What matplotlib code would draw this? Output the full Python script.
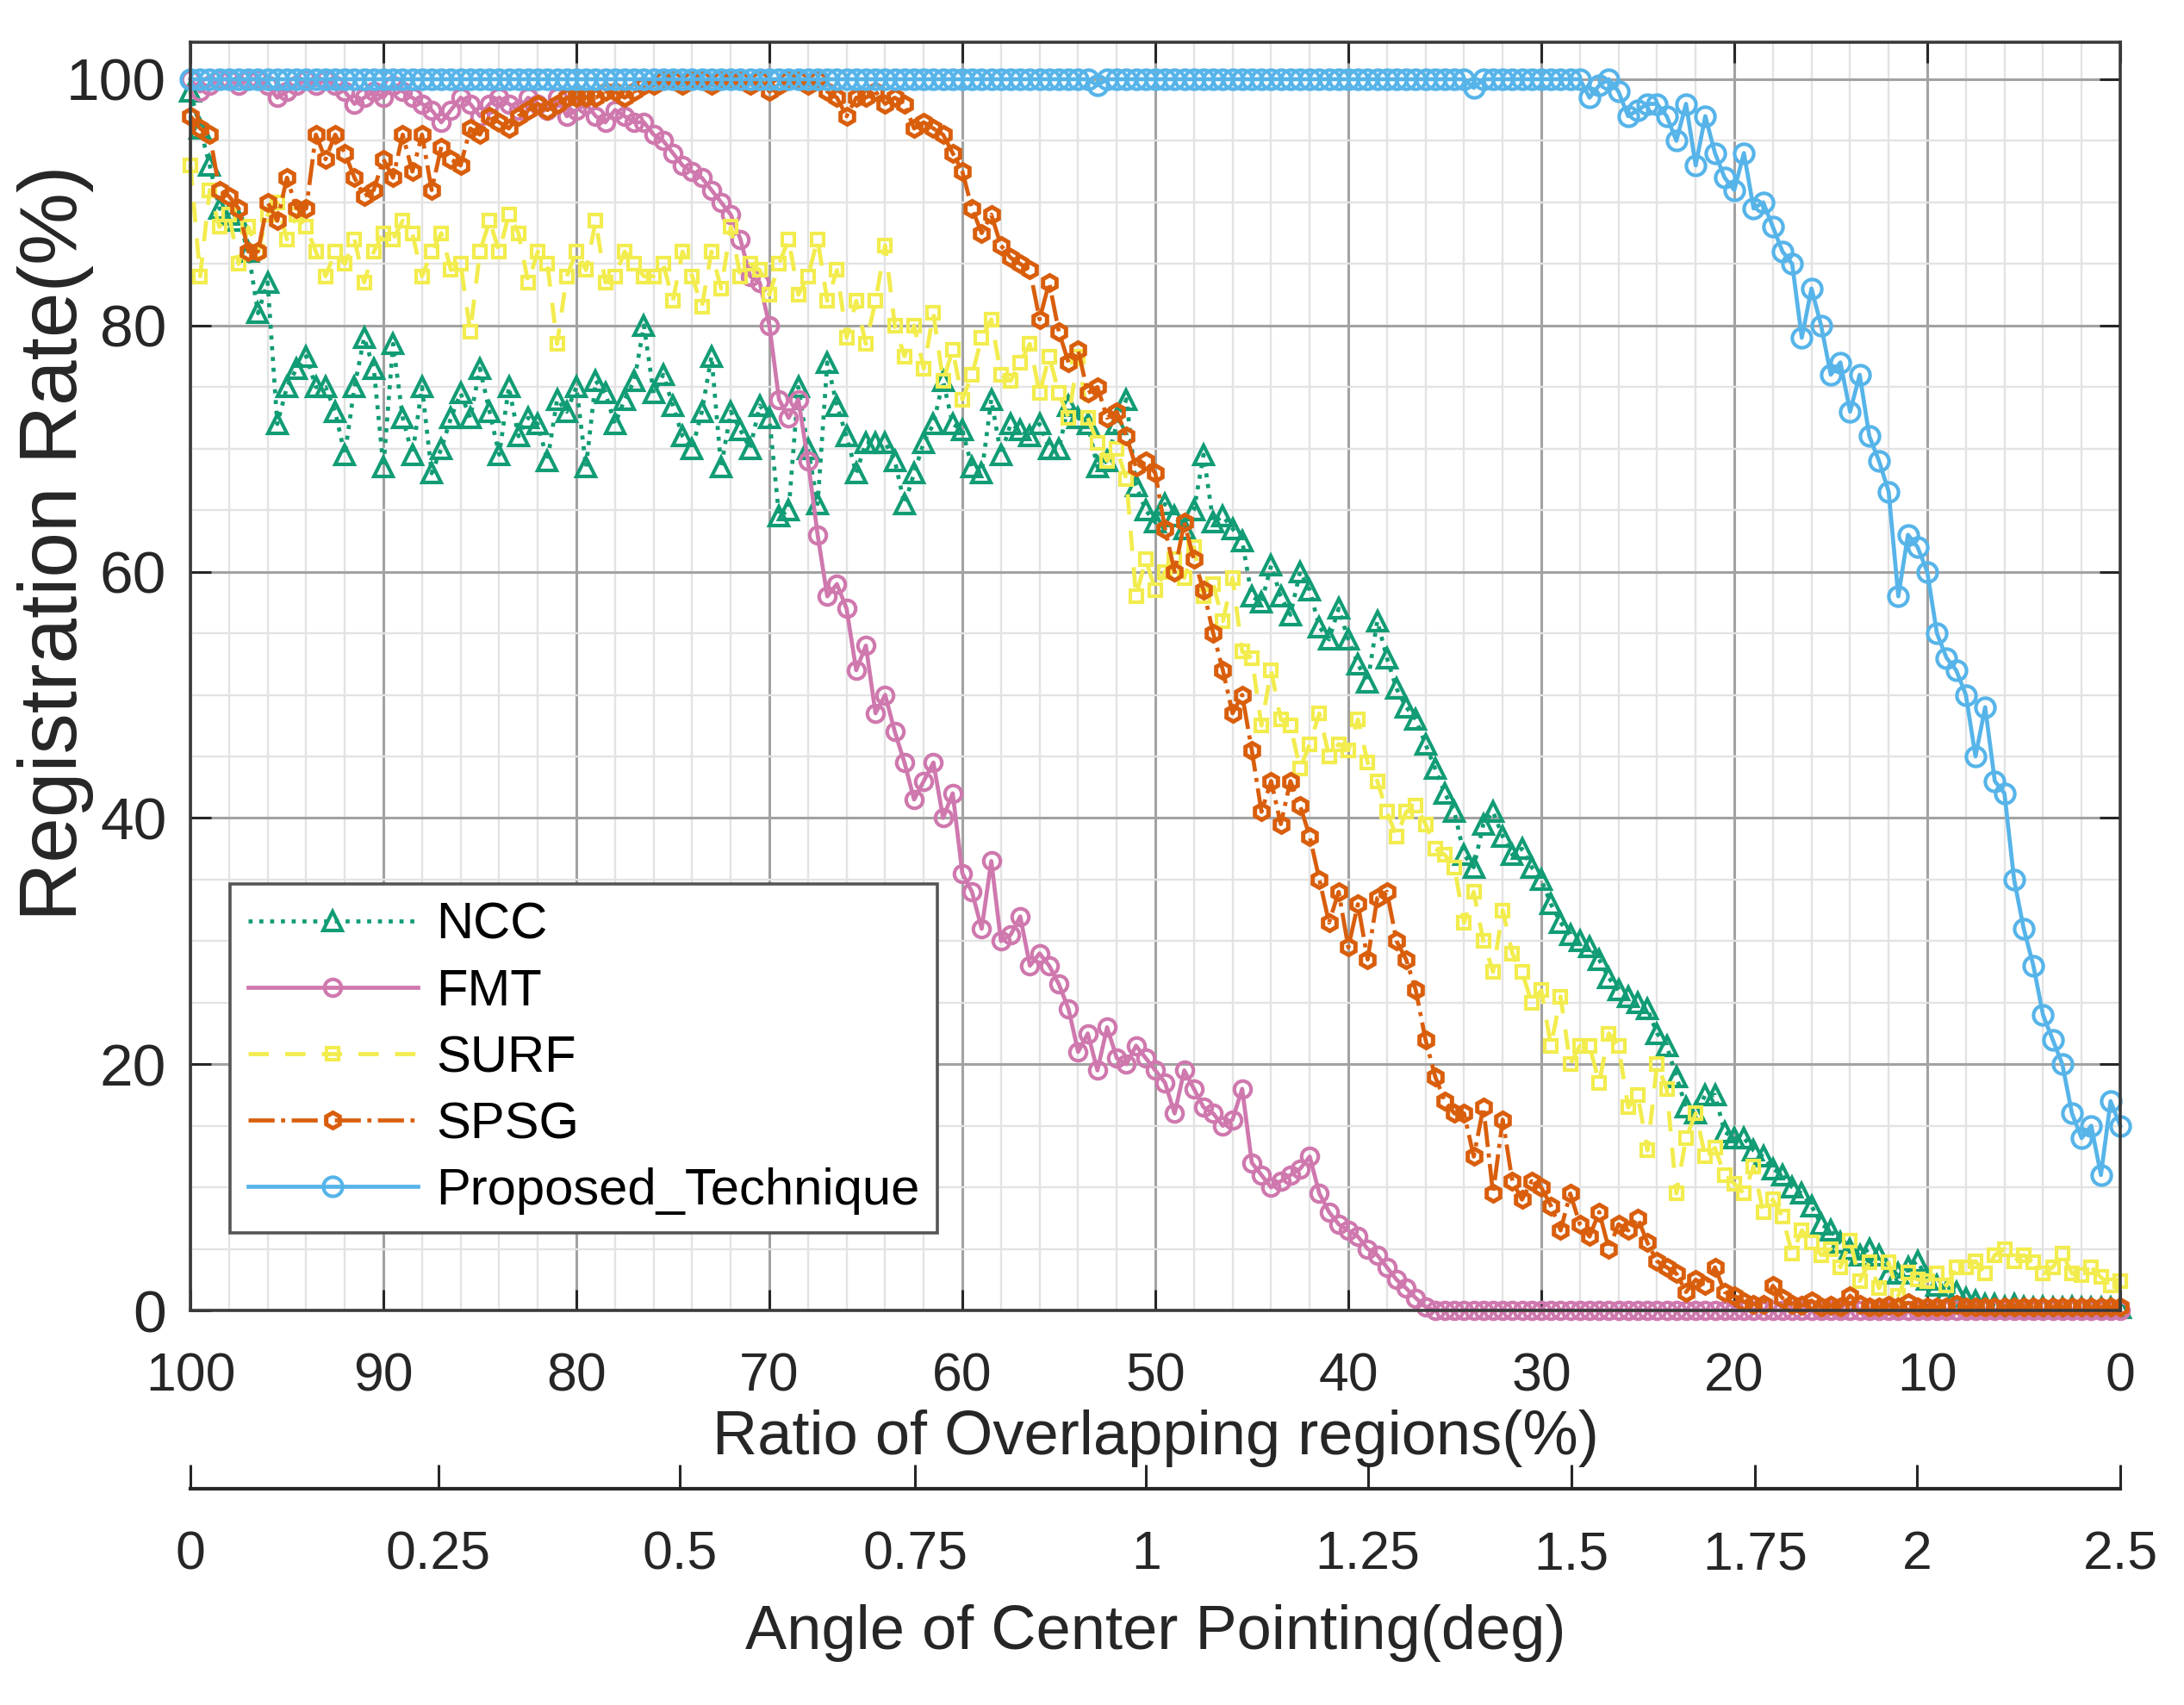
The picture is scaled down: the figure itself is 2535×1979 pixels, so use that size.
import numpy as np
import matplotlib
matplotlib.use('Agg')
import matplotlib.pyplot as plt
from matplotlib.ticker import MultipleLocator

plt.rcParams['font.family'] = ['Liberation Sans', 'DejaVu Sans']

# x: ratio of overlapping regions (%), 100 -> 0 in steps of 0.5
overlap = np.linspace(100, 0, 201)

ncc = [
    99, 96, 93, 89.5, 89, 88.5, 86, 81, 83.5, 72,
    75, 76.5, 77.5, 75, 75, 73, 69.5, 75, 79, 76.5,
    68.5, 78.5, 72.5, 69.5, 75, 68, 70, 72.5, 74.5, 72.5,
    76.5, 73, 69.5, 75, 71, 72.5, 72, 69, 74, 73,
    75, 68.5, 75.5, 74.5, 72, 74, 75.5, 80, 74.5, 76,
    73.5, 71, 70, 73, 77.5, 68.5, 73, 71.5, 70, 73.5,
    72.5, 64.5, 65, 75, 70, 65.5, 77, 73.5, 71, 68,
    70.5, 70.5, 70.5, 69, 65.5, 68, 70.5, 72, 75.5, 72,
    71.5, 68.5, 68, 74, 69.5, 72, 71.5, 71, 72, 70,
    70, 73.5, 72.5, 72, 68.5, 69, 72, 74, 67, 65,
    64, 65.5, 64.5, 63.5, 65, 69.5, 64, 64.5, 63.5, 62.5,
    58, 57.5, 60.5, 58, 56.5, 60, 58.5, 55.5, 54.5, 57,
    54.5, 52.5, 51, 56, 53, 50.5, 49, 48, 46, 44,
    42, 40.5, 37, 36, 39.5, 40.5, 38.5, 37, 37.5, 36,
    35, 33, 31.5, 30.5, 30, 29.5, 28.5, 27, 26, 25.5,
    25, 24.5, 22.5, 21.5, 19, 16.5, 16, 17.5, 17.5, 14.5,
    14, 14, 13, 12.5, 11.5, 11, 10, 9.5, 8.5, 7,
    6.5, 5.5, 5, 4.5, 5, 4.5, 3, 3, 3.5, 4,
    2.5, 2, 1.5, 1.5, 1, 0.8, 0.5, 0.5, 0.3, 0.5,
    0.3, 0.2, 0.3, 0.2, 0.2, 0.3, 0.2, 0.2, 0.2, 0.2,
    0.2]

fmt = [
    100, 99, 99.5, 100, 100, 99.5, 100, 100, 99.5, 98.5,
    99, 99.5, 100, 99.5, 100, 99.5, 99, 98, 98.5, 99,
    98.5, 99.5, 99, 98.5, 98, 97.5, 96.5, 97.5, 98.5, 98,
    97, 98, 98.5, 98, 97.5, 98.5, 98, 97.5, 98.5, 97,
    97.5, 98, 97, 96.5, 97.5, 97, 96.5, 96.5, 95.5, 95,
    94, 93, 92.5, 92, 91, 90, 89, 87, 84, 83.5,
    80, 74, 72.5, 74, 69, 63, 58, 59, 57, 52,
    54, 48.5, 50, 47, 44.5, 41.5, 43, 44.5, 40, 42,
    35.5, 34, 31, 36.5, 30, 30.5, 32, 28, 29, 28,
    26.5, 24.5, 21, 22.5, 19.5, 23, 20.5, 20, 21.5, 20.5,
    19.5, 18.5, 16, 19.5, 18, 16.5, 16, 15, 15.5, 18,
    12, 11, 10, 10.5, 11, 11.5, 12.5, 9.5, 8, 7,
    6.5, 6, 5, 4.5, 3.5, 2.5, 1.8, 1, 0.3, 0,
    0, 0, 0, 0, 0, 0, 0, 0, 0, 0,
    0, 0, 0, 0, 0, 0, 0, 0, 0, 0,
    0, 0, 0, 0, 0, 0, 0, 0, 0, 0,
    0, 0, 0, 0, 0, 0, 0, 0, 0, 0,
    0, 0, 0, 0, 0, 0, 0, 0, 0, 0,
    0, 0, 0, 0, 0, 0, 0, 0, 0, 0,
    0, 0, 0, 0, 0, 0, 0, 0, 0, 0,
    0]

surf = [
    93, 84, 91, 88, 89, 85, 88, 86, 89, 90,
    87, 89, 88, 86, 84, 86, 85, 87, 83.5, 86,
    87.5, 87, 88.5, 87.5, 84, 86, 87.5, 84.5, 85, 79.5,
    86, 88.5, 86, 89, 87.5, 83.5, 86, 85, 78.5, 84,
    86, 84.5, 88.5, 83.5, 84, 86, 85, 84, 84, 85,
    82, 86, 84, 81.5, 86, 83, 88, 84, 85, 84.5,
    82.5, 85, 87, 82.5, 84, 87, 82, 84.5, 79, 82,
    78.5, 82, 86.5, 80, 77.5, 80, 76.5, 81, 75.5, 78,
    74, 76, 79, 80.5, 76, 75.5, 77, 78.5, 74.5, 77.5,
    74.5, 72.5, 77.5, 72.5, 70.5, 69, 70, 67.5, 58, 61,
    58.5, 60, 61, 59.5, 62, 58, 59, 56, 59.5, 53.5,
    53, 47.5, 52, 48, 47.5, 44, 46, 48.5, 45, 46,
    45.5, 48, 44.5, 43, 40.5, 38.5, 40.5, 41, 39.5, 37.5,
    37, 36, 31.5, 34, 30, 27.5, 32.5, 29, 27.5, 25,
    26, 21.5, 25.5, 20, 21.5, 21.5, 18.5, 22.5, 21.5, 16.5,
    17.5, 13, 20, 18, 9.5, 14, 16, 12.5, 13.2, 11,
    10.3, 9.5, 11.7, 8, 9, 7.6, 4.6, 6.5, 5.5, 4.5,
    5, 3.5, 5.7, 2.4, 3.9, 1.8, 3.9, 1.2, 3.1, 2.5,
    2.4, 3, 2, 3.5, 3.5, 4, 3, 4.5, 5, 4,
    4.5, 3.9, 3, 3.5, 4.6, 3, 2.9, 3.5, 2.7, 2,
    2.4]

spsg = [
    97, 96, 95.5, 91, 90.5, 89.5, 86, 86, 90, 88.5,
    92, 89.5, 89.5, 95.5, 93.5, 95.5, 94, 92, 90.5, 91,
    93.5, 92, 95.5, 92.5, 95.5, 91, 94.5, 93.5, 93, 96,
    95.5, 97, 96.5, 96, 97, 97.5, 98, 97.5, 98, 98.5,
    98.5, 98.5, 98.5, 99, 99, 98.5, 99, 99.5, 99.5, 100,
    100, 99.5, 100, 100, 99.5, 100, 100, 100, 99.5, 100,
    99, 99.5, 100, 100, 99.5, 100, 99, 98.5, 97, 98.5,
    98.5, 99, 98, 98.5, 98, 96, 96.5, 96, 95.5, 94,
    92.5, 89.5, 87.5, 89, 86.5, 85.5, 85, 84.5, 80.5, 83.5,
    79.5, 77, 78, 74.5, 75, 72.5, 73, 71, 68.5, 69,
    68, 63.5, 60, 64, 61, 58.5, 55, 52, 48.5, 50,
    45.5, 40.5, 43, 39.5, 43, 41, 38.5, 35, 31.5, 34,
    29.5, 33, 28.5, 33.5, 34, 30, 28.5, 26, 22, 19,
    17, 16, 16, 12.5, 16.5, 9.5, 15.5, 10.5, 9, 10.5,
    10, 8.5, 6.5, 9.5, 7, 6, 8, 5, 7, 6.5,
    7.5, 5.5, 4, 3.5, 3, 1.5, 2.5, 2, 3.5, 1.5,
    1.2, 0.7, 0.5, 0.5, 2, 1, 0.5, 0.4, 0.8, 0.3,
    0.4, 0.3, 1.2, 0.5, 0.3, 0.3, 0.4, 0.3, 0.6, 0.3,
    0.3, 0.3, 0.3, 0.5, 0.3, 0.3, 0.3, 0.3, 0.3, 0.3,
    0.3, 0.3, 0.3, 0.3, 0.3, 0.3, 0.3, 0.3, 0.3, 0.3,
    0.3]

proposed = [
    100, 100, 100, 100, 100, 100, 100, 100, 100, 100,
    100, 100, 100, 100, 100, 100, 100, 100, 100, 100,
    100, 100, 100, 100, 100, 100, 100, 100, 100, 100,
    100, 100, 100, 100, 100, 100, 100, 100, 100, 100,
    100, 100, 100, 100, 100, 100, 100, 100, 100, 100,
    100, 100, 100, 100, 100, 100, 100, 100, 100, 100,
    100, 100, 100, 100, 100, 100, 100, 100, 100, 100,
    100, 100, 100, 100, 100, 100, 100, 100, 100, 100,
    100, 100, 100, 100, 100, 100, 100, 100, 100, 100,
    100, 100, 100, 100, 99.5, 100, 100, 100, 100, 100,
    100, 100, 100, 100, 100, 100, 100, 100, 100, 100,
    100, 100, 100, 100, 100, 100, 100, 100, 100, 100,
    100, 100, 100, 100, 100, 100, 100, 100, 100, 100,
    100, 100, 100, 99.3, 100, 100, 100, 100, 100, 100,
    100, 100, 100, 100, 100, 98.5, 99.5, 100, 99, 97,
    97.5, 98, 98, 97, 95, 98, 93, 97, 94, 92,
    91, 94, 89.5, 90, 88, 86, 85, 79, 83, 80,
    76, 77, 73, 76, 71, 69, 66.5, 58, 63, 62,
    60, 55, 53, 52, 50, 45, 49, 43, 42, 35,
    31, 28, 24, 22, 20, 16, 14, 15, 11, 17,
    15]

series_names = ['NCC', 'FMT', 'SURF', 'SPSG', 'Proposed_Technique']

# secondary scale: angle of center pointing vs. overlap ratio
angle_ticks = [0, 0.25, 0.5, 0.75, 1, 1.25, 1.5, 1.75, 2, 2.5]
angle_labels = ['0', '0.25', '0.5', '0.75', '1', '1.25', '1.5', '1.75', '2', '2.5']
ratio_at_angle = [100, 87.15, 74.66, 62.45, 50.47, 38.99, 28.45, 18.92, 10.54, 0.0]

for s in (ncc, fmt, surf, spsg, proposed):
    assert len(s) == len(overlap), len(s)

c_ncc = '#119C75'
c_fmt = '#CF78AE'
c_surf = '#F2EC4E'
c_spsg = '#D95E0C'
c_prop = '#56B4E9'

fig = plt.figure(figsize=(25.35, 19.79), dpi=100)
ax = fig.add_axes([0.0872, 0.2314, 0.8836, 0.7438])

ax.plot(overlap, ncc, ls=':', lw=3.4, color=c_ncc, marker='^', ms=16, mfc='none',
        mew=3.0, label=series_names[0], clip_on=False)
ax.plot(overlap, fmt, ls='-', lw=3.4, color=c_fmt, marker='o', ms=14, mfc='none',
        mew=3.0, label=series_names[1], clip_on=False)
ax.plot(overlap, surf, ls=(0, (5, 4)), lw=3.4, color=c_surf, marker='s', ms=10, mfc='none',
        mew=3.0, label=series_names[2], clip_on=False)
ax.plot(overlap, spsg, ls='-.', lw=3.4, color=c_spsg, marker='h', ms=13, mfc='none',
        mew=3.6, label=series_names[3], clip_on=False)
ax.plot(overlap, proposed, ls='-', lw=3.4, color=c_prop, marker='o', ms=16, mfc='none',
        mew=3.0, label=series_names[4], clip_on=False)

ax.set_xlim(100, 0)
ax.set_ylim(0, 103)
ax.xaxis.set_major_locator(MultipleLocator(10))
ax.xaxis.set_minor_locator(MultipleLocator(2))
ax.yaxis.set_major_locator(MultipleLocator(20))
ax.yaxis.set_minor_locator(MultipleLocator(5))
ax.set_axisbelow(True)
ax.grid(which='major', color='#a2a2a2', lw=2.2)
ax.grid(which='minor', color='#e3e3e3', lw=1.7)

ax.tick_params(which='major', direction='in', length=17, width=2.2, top=True, right=True,
               color='#262626', labelcolor='#262626')
ax.tick_params(axis='x', which='major', pad=34, labelsize=45)
ax.tick_params(axis='y', which='major', pad=20, labelsize=50)
ax.tick_params(which='minor', length=0)
for sp in ax.spines.values():
    sp.set_linewidth(2.6)
    sp.set_color('#3a3a3a')

ax.set_xlabel('Ratio of Overlapping regions(%)', fontsize=52, labelpad=6, color='#262626')
ax.set_ylabel('Registration Rate(%)', fontsize=68, color='#262626')
ax.yaxis.set_label_coords(-0.050, 0.605)

leg = ax.legend(loc='lower left', bbox_to_anchor=(0.0205, 0.0611), borderaxespad=0,
                fontsize=43, handlelength=3.3, handletextpad=0.35, labelspacing=0.37,
                borderpad=0.35, fancybox=False, edgecolor='#555555', framealpha=1)
leg.get_frame().set_linewidth(2.6)


def to_angle(r):
    return np.interp(r, ratio_at_angle[::-1], angle_ticks[::-1])


def to_ratio(a):
    return np.interp(a, angle_ticks, ratio_at_angle)


sec = ax.secondary_xaxis(-0.1406, functions=(to_angle, to_ratio))
sec.set_xticks(angle_ticks, labels=angle_labels)
sec.tick_params(direction='in', length=20, width=2.2, labelsize=45, pad=34,
                color='#262626', labelcolor='#262626')
sec.xaxis.set_minor_locator(plt.NullLocator())
sec.spines['bottom'].set_linewidth(3)
sec.spines['bottom'].set_color('#262626')
sec.set_xlabel('Angle of Center Pointing(deg)', fontsize=52, labelpad=20, color='#262626')

fig.savefig('out.png', dpi=100)
